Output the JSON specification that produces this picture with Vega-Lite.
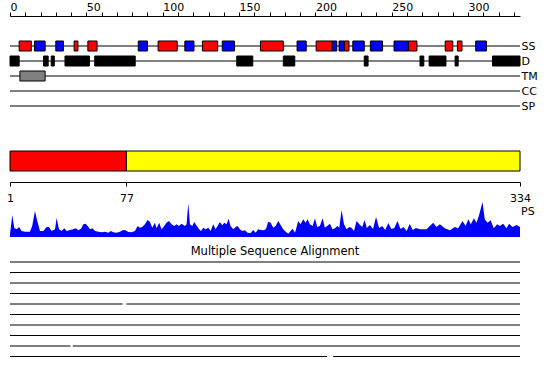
{
  "$schema": "https://vega.github.io/schema/vega-lite/v6.json",
  "padding": {"left": 6, "top": 1, "right": 5, "bottom": 5},
  "background": "white",
  "config": {
    "view": {"stroke": null},
    "font": "DejaVu Sans",
    "axis": {"grid": false, "domainColor": "#000", "tickColor": "#000", "labelColor": "#000", "labelFont": "DejaVu Sans", "labelFontSize": 11, "domainWidth": 1, "tickWidth": 1},
    "title": {"font": "DejaVu Sans", "fontSize": 11.5, "fontWeight": "normal", "color": "#000"}
  },
  "datasets": {
    "tracks": [
      {"track": "SS", "start": 0, "end": 334},
      {"track": "D", "start": 0, "end": 334},
      {"track": "TM", "start": 0, "end": 334},
      {"track": "CC", "start": 0, "end": 334},
      {"track": "SP", "start": 0, "end": 334}
    ],
    "features": [
      {"track": "SS", "start": 6, "end": 14, "type": "helix"},
      {"track": "SS", "start": 16, "end": 23, "type": "strand"},
      {"track": "SS", "start": 30, "end": 35, "type": "strand"},
      {"track": "SS", "start": 42, "end": 44.5, "type": "helix"},
      {"track": "SS", "start": 51, "end": 57, "type": "helix"},
      {"track": "SS", "start": 84, "end": 90, "type": "strand"},
      {"track": "SS", "start": 97, "end": 109.5, "type": "helix"},
      {"track": "SS", "start": 114.5, "end": 120.5, "type": "strand"},
      {"track": "SS", "start": 126, "end": 136, "type": "helix"},
      {"track": "SS", "start": 139, "end": 147, "type": "strand"},
      {"track": "SS", "start": 164, "end": 179, "type": "helix"},
      {"track": "SS", "start": 188, "end": 194, "type": "strand"},
      {"track": "SS", "start": 200.5, "end": 211, "type": "helix"},
      {"track": "SS", "start": 211, "end": 214, "type": "strand"},
      {"track": "SS", "start": 215.5, "end": 219, "type": "strand"},
      {"track": "SS", "start": 219, "end": 222, "type": "helix"},
      {"track": "SS", "start": 224.5, "end": 232, "type": "strand"},
      {"track": "SS", "start": 236, "end": 244, "type": "strand"},
      {"track": "SS", "start": 251.5, "end": 261, "type": "strand"},
      {"track": "SS", "start": 261, "end": 266.5, "type": "helix"},
      {"track": "SS", "start": 285, "end": 290, "type": "helix"},
      {"track": "SS", "start": 293, "end": 296, "type": "helix"},
      {"track": "SS", "start": 305, "end": 312, "type": "strand"},
      {"track": "D", "start": 0, "end": 6, "type": "disorder"},
      {"track": "D", "start": 22, "end": 25, "type": "disorder"},
      {"track": "D", "start": 27, "end": 29, "type": "disorder"},
      {"track": "D", "start": 36, "end": 52, "type": "disorder"},
      {"track": "D", "start": 55.5, "end": 82, "type": "disorder"},
      {"track": "D", "start": 148.5, "end": 159, "type": "disorder"},
      {"track": "D", "start": 179, "end": 186.5, "type": "disorder"},
      {"track": "D", "start": 232, "end": 234.5, "type": "disorder"},
      {"track": "D", "start": 268.5, "end": 271, "type": "disorder"},
      {"track": "D", "start": 274.5, "end": 285.5, "type": "disorder"},
      {"track": "D", "start": 291.5, "end": 293.5, "type": "disorder"},
      {"track": "D", "start": 316, "end": 334, "type": "disorder"},
      {"track": "TM", "start": 6.5, "end": 23, "type": "tm"}
    ],
    "domains": [
      {"track": "Domains", "region": "A", "start": 1, "end": 77},
      {"track": "Domains", "region": "B", "start": 77, "end": 334}
    ],
    "ps": [
      {"pos": 1, "ps": 3}, {"pos": 2.5, "ps": 22}, {"pos": 3.8, "ps": 9}, {"pos": 5.4, "ps": 7.7},
      {"pos": 6.9, "ps": 10}, {"pos": 8.6, "ps": 6}, {"pos": 10.8, "ps": 5.3}, {"pos": 14, "ps": 5.3},
      {"pos": 15.5, "ps": 11}, {"pos": 17.3, "ps": 26}, {"pos": 18.8, "ps": 16}, {"pos": 20.6, "ps": 6},
      {"pos": 22.8, "ps": 6}, {"pos": 24.9, "ps": 10}, {"pos": 26.4, "ps": 10}, {"pos": 28.2, "ps": 6},
      {"pos": 30.4, "ps": 7.7}, {"pos": 31.4, "ps": 19}, {"pos": 33, "ps": 7.7}, {"pos": 34.7, "ps": 6},
      {"pos": 36.4, "ps": 8.7}, {"pos": 38, "ps": 6}, {"pos": 40.2, "ps": 7}, {"pos": 42.3, "ps": 7.7},
      {"pos": 43.9, "ps": 8.7}, {"pos": 45.6, "ps": 6.7}, {"pos": 47.4, "ps": 8.3}, {"pos": 48.9, "ps": 12.7},
      {"pos": 50.4, "ps": 13.3}, {"pos": 51.7, "ps": 11}, {"pos": 53.3, "ps": 7.7}, {"pos": 54.8, "ps": 8.7},
      {"pos": 56.5, "ps": 6}, {"pos": 58.7, "ps": 5.3}, {"pos": 60.9, "ps": 4.7}, {"pos": 63, "ps": 5.3},
      {"pos": 65.2, "ps": 4.3}, {"pos": 66.9, "ps": 6}, {"pos": 68.4, "ps": 4.7}, {"pos": 70.6, "ps": 4.3},
      {"pos": 72.7, "ps": 5.3}, {"pos": 74.9, "ps": 7}, {"pos": 76.5, "ps": 6.7}, {"pos": 78.2, "ps": 5},
      {"pos": 80.4, "ps": 4.7}, {"pos": 82.6, "ps": 6}, {"pos": 84.3, "ps": 11}, {"pos": 85.8, "ps": 9.3},
      {"pos": 87.3, "ps": 10}, {"pos": 89.1, "ps": 12.7}, {"pos": 90.8, "ps": 17}, {"pos": 92.3, "ps": 15.3},
      {"pos": 93.9, "ps": 9.3}, {"pos": 95.6, "ps": 14.3}, {"pos": 96.7, "ps": 8.7}, {"pos": 98.4, "ps": 14.3},
      {"pos": 100, "ps": 7.7}, {"pos": 101.7, "ps": 11}, {"pos": 103.2, "ps": 14.3}, {"pos": 104.8, "ps": 16},
      {"pos": 106.5, "ps": 12.7}, {"pos": 108.2, "ps": 11}, {"pos": 109.8, "ps": 12.7}, {"pos": 111.3, "ps": 11},
      {"pos": 113, "ps": 13.3}, {"pos": 115.2, "ps": 11}, {"pos": 116.3, "ps": 12.7}, {"pos": 117.4, "ps": 34},
      {"pos": 118.5, "ps": 12.7}, {"pos": 120, "ps": 11}, {"pos": 121.3, "ps": 15}, {"pos": 123, "ps": 11},
      {"pos": 124.5, "ps": 7.7}, {"pos": 125.7, "ps": 6}, {"pos": 127.2, "ps": 9.3}, {"pos": 128.8, "ps": 7.7},
      {"pos": 130.5, "ps": 9.3}, {"pos": 132, "ps": 6}, {"pos": 133.7, "ps": 12.7}, {"pos": 135.2, "ps": 7.7},
      {"pos": 136.5, "ps": 11}, {"pos": 138, "ps": 15}, {"pos": 139.6, "ps": 11.7}, {"pos": 140.9, "ps": 14.3},
      {"pos": 142.4, "ps": 12.7}, {"pos": 143.7, "ps": 18.3}, {"pos": 145, "ps": 11}, {"pos": 146.8, "ps": 7.7},
      {"pos": 148.3, "ps": 10}, {"pos": 149.6, "ps": 11}, {"pos": 151.1, "ps": 7.7}, {"pos": 152.6, "ps": 6},
      {"pos": 154.4, "ps": 6.7}, {"pos": 156.1, "ps": 4.3}, {"pos": 158.1, "ps": 4}, {"pos": 159.8, "ps": 7},
      {"pos": 161.4, "ps": 4.3}, {"pos": 163.1, "ps": 7.7}, {"pos": 164.8, "ps": 7}, {"pos": 166.4, "ps": 6.7},
      {"pos": 168.1, "ps": 7.7}, {"pos": 169.6, "ps": 15.3}, {"pos": 171.2, "ps": 14.3}, {"pos": 172.9, "ps": 9.3},
      {"pos": 174.4, "ps": 11}, {"pos": 176.2, "ps": 16}, {"pos": 177.7, "ps": 12}, {"pos": 179.4, "ps": 7.7},
      {"pos": 181.2, "ps": 5}, {"pos": 182.7, "ps": 3.3}, {"pos": 184.2, "ps": 6}, {"pos": 185.5, "ps": 8.3},
      {"pos": 187.1, "ps": 4.3}, {"pos": 189.2, "ps": 16}, {"pos": 190.7, "ps": 12.7}, {"pos": 192.5, "ps": 17.7},
      {"pos": 194, "ps": 14.3}, {"pos": 195.3, "ps": 17.7}, {"pos": 196.8, "ps": 12.7}, {"pos": 198.6, "ps": 11},
      {"pos": 200.1, "ps": 18.7}, {"pos": 201.6, "ps": 10}, {"pos": 203.3, "ps": 11}, {"pos": 205.1, "ps": 18.7},
      {"pos": 206.6, "ps": 9.3}, {"pos": 208.1, "ps": 11}, {"pos": 209.9, "ps": 13.3}, {"pos": 211.6, "ps": 7.7},
      {"pos": 213.2, "ps": 8.7}, {"pos": 214.7, "ps": 11}, {"pos": 216, "ps": 9.3}, {"pos": 217.5, "ps": 27},
      {"pos": 219.1, "ps": 12.7}, {"pos": 220.8, "ps": 7.7}, {"pos": 222.5, "ps": 10}, {"pos": 224, "ps": 9.3},
      {"pos": 225.6, "ps": 6}, {"pos": 227.3, "ps": 16}, {"pos": 229.1, "ps": 12.7}, {"pos": 231, "ps": 10},
      {"pos": 232.5, "ps": 17}, {"pos": 234, "ps": 9}, {"pos": 236, "ps": 12}, {"pos": 238, "ps": 8},
      {"pos": 240, "ps": 20}, {"pos": 242, "ps": 9}, {"pos": 244, "ps": 11}, {"pos": 246, "ps": 7},
      {"pos": 248, "ps": 14}, {"pos": 250, "ps": 8}, {"pos": 252, "ps": 9}, {"pos": 254, "ps": 16},
      {"pos": 256, "ps": 8}, {"pos": 258, "ps": 10}, {"pos": 260, "ps": 6}, {"pos": 262, "ps": 13},
      {"pos": 264, "ps": 7}, {"pos": 266, "ps": 9}, {"pos": 268.6, "ps": 7.7}, {"pos": 273, "ps": 7.7},
      {"pos": 277.3, "ps": 14.3}, {"pos": 279.5, "ps": 10}, {"pos": 281.7, "ps": 12.7}, {"pos": 284.9, "ps": 8.7},
      {"pos": 288.2, "ps": 6.7}, {"pos": 291.5, "ps": 10}, {"pos": 293.6, "ps": 8.7}, {"pos": 296.5, "ps": 16},
      {"pos": 298.5, "ps": 11}, {"pos": 300.2, "ps": 17.7}, {"pos": 301.9, "ps": 12.7}, {"pos": 303.9, "ps": 18.7},
      {"pos": 305.6, "ps": 14.3}, {"pos": 307.3, "ps": 22}, {"pos": 309.5, "ps": 35}, {"pos": 311, "ps": 17.7},
      {"pos": 312.8, "ps": 14.3}, {"pos": 314.8, "ps": 16.7}, {"pos": 316.9, "ps": 8.7}, {"pos": 319.1, "ps": 12.7},
      {"pos": 320.8, "ps": 11}, {"pos": 323, "ps": 13.3}, {"pos": 325.2, "ps": 8.7}, {"pos": 326.9, "ps": 13.3},
      {"pos": 329.1, "ps": 10}, {"pos": 331.7, "ps": 12}, {"pos": 334, "ps": 10}
    ],
    "msa": [
      {"row": 1, "start": 1, "end": 334},
      {"row": 2, "start": 1, "end": 334},
      {"row": 3, "start": 1, "end": 334},
      {"row": 4, "start": 1, "end": 334},
      {"row": 5, "start": 1, "end": 74.5},
      {"row": 5, "start": 77, "end": 334},
      {"row": 6, "start": 1, "end": 334},
      {"row": 7, "start": 1, "end": 334},
      {"row": 8, "start": 1, "end": 334},
      {"row": 9, "start": 1, "end": 40.5},
      {"row": 9, "start": 42, "end": 334},
      {"row": 10, "start": 1, "end": 208},
      {"row": 10, "start": 212, "end": 334}
    ]
  },
  "spacing": 0,
  "bounds": "flush",
  "resolve": {"scale": {"x": "independent", "y": "independent", "color": "independent"}},
  "vconcat": [
    {
      "width": 510,
      "height": 90,
      "encoding": {
        "x": {
          "field": "start", "type": "quantitative",
          "scale": {"domain": [0, 334], "nice": false, "zero": false},
          "axis": {
            "orient": "top", "title": null, "offset": 15,
            "values": [0, 10, 20, 30, 40, 50, 60, 70, 80, 90, 100, 110, 120, 130, 140, 150, 160, 170, 180, 190, 200, 210, 220, 230, 240, 250, 260, 270, 280, 290, 300, 310, 320, 330],
            "labelExpr": "datum.value % 50 === 0 ? datum.label : ''",
            "labelAlign": "left", "labelBaseline": "alphabetic",
            "tickSize": 4, "labelPadding": 1.5,
            "labelOverlap": false, "labelBound": false, "labelFlush": false
          }
        },
        "x2": {"field": "end"},
        "y": {
          "field": "track", "type": "ordinal",
          "scale": {"type": "point", "domain": ["SS", "D", "TM", "CC", "SP"], "padding": 1},
          "axis": {"orient": "right", "title": null, "ticks": false, "domain": false, "labelPadding": 1, "labelFontSize": 11}
        }
      },
      "layer": [
        {
          "data": {"name": "tracks"},
          "mark": {"type": "rule", "color": "#000", "strokeWidth": 1},
          "encoding": {}
        },
        {
          "data": {"name": "features"},
          "mark": {"type": "bar", "height": 10, "stroke": "#000", "strokeWidth": 1},
          "encoding": {
            "color": {
              "field": "type", "type": "nominal",
              "scale": {"domain": ["helix", "strand", "disorder", "tm"], "range": ["#ff0000", "#0000ff", "#000000", "#808080"]},
              "legend": null
            }
          }
        }
      ]
    },
    {
      "width": 510,
      "height": 60,
      "data": {"name": "domains"},
      "mark": {"type": "rect", "stroke": "#000", "strokeWidth": 1},
      "encoding": {
        "x": {
          "field": "start", "type": "quantitative",
          "scale": {"domain": [1, 334], "nice": false, "zero": false},
          "axis": {"orient": "bottom", "title": null, "values": [1, 77, 334], "tickSize": 4, "labelPadding": 6, "offset": 1, "labelFlush": false, "labelOverlap": false, "labelBound": false}
        },
        "x2": {"field": "end"},
        "y": {"field": "track", "type": "nominal", "scale": {"type": "band", "paddingInner": 0, "paddingOuter": 1, "align": 0.75}, "axis": null},
        "color": {
          "field": "region", "type": "nominal",
          "scale": {"domain": ["A", "B"], "range": ["#ff0000", "#ffff00"]},
          "legend": null
        }
      }
    },
    {
      "width": 510,
      "height": 56,
      "layer": [
        {
          "data": {"name": "ps"},
          "mark": {"type": "area", "color": "#0000ff", "interpolate": "linear"},
          "encoding": {
            "x": {"field": "pos", "type": "quantitative", "scale": {"domain": [1, 334], "nice": false, "zero": false}, "axis": null},
            "y": {"field": "ps", "type": "quantitative", "scale": {"domain": [0, 56], "nice": false}, "axis": null}
          }
        },
        {
          "data": {"values": [{"label": "PS"}]},
          "mark": {"type": "text", "align": "left", "baseline": "middle", "dx": 1, "fontSize": 11, "color": "#000"},
          "encoding": {
            "x": {"datum": 334},
            "y": {"datum": 25.5},
            "text": {"field": "label"}
          }
        }
      ]
    },
    {
      "width": 510,
      "height": 130,
      "title": {"text": "Multiple Sequence Alignment", "offset": -29, "baseline": "alphabetic", "anchor": "middle", "dx": 10},
      "data": {"name": "msa"},
      "mark": {"type": "rule", "color": "#000", "strokeWidth": 1},
      "encoding": {
        "x": {"field": "start", "type": "quantitative", "scale": {"domain": [1, 334], "nice": false, "zero": false}, "axis": null},
        "x2": {"field": "end"},
        "y": {"field": "row", "type": "quantitative", "scale": {"domain": [-1.381, 11], "reverse": true, "nice": false, "zero": false}, "axis": null}
      }
    }
  ]
}
